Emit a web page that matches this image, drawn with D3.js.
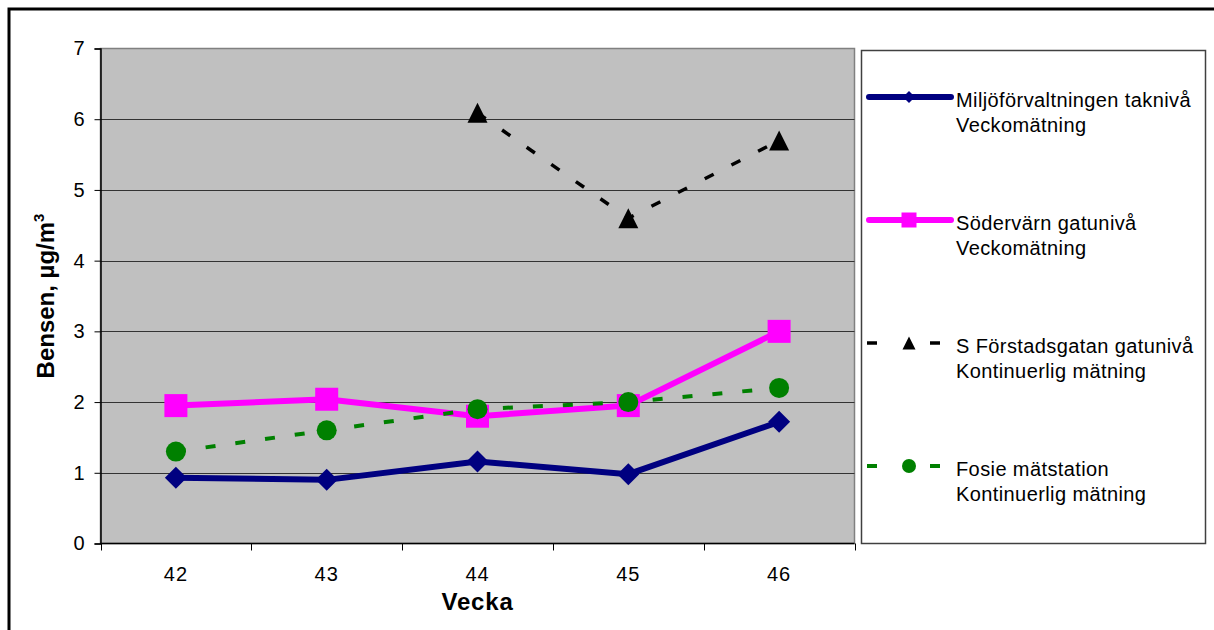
<!DOCTYPE html>
<html>
<head>
<meta charset="utf-8">
<script src="https://cdn.jsdelivr.net/npm/d3@7"></script>
<style>
  html, body { margin: 0; padding: 0; background: #fff; }
  svg { display: block; font-family: "Liberation Sans", Arial, sans-serif; }
</style>
</head>
<body>
<svg id="chart" width="1214" height="630"></svg>
<script>
// Week numbers and benzene concentrations (µg/m³)
const weeks = ["42", "43", "44", "45", "46"];
const miljoValues = [0.93, 0.90, 1.16, 0.98, 1.72];
const sodervarnValues = [1.95, 2.04, 1.80, 1.95, 3.00];
const forstadsValues = [null, null, 6.09, 4.60, 5.70];
const fosieValues = [1.30, 1.60, 1.90, 2.00, 2.20];
const yTicks = [0, 1, 2, 3, 4, 5, 6, 7];

const series = [
  { name: ["Miljöförvaltningen taknivå", "Veckomätning"], values: miljoValues,
    color: "#000080", width: 6, dash: null, marker: "diamond", size: 22, legendSize: 12 },
  { name: ["Södervärn gatunivå", "Veckomätning"], values: sodervarnValues,
    color: "#FF00FF", width: 6, dash: null, marker: "square", size: 23, legendSize: 15 },
  { name: ["S Förstadsgatan gatunivå", "Kontinuerlig mätning"], values: forstadsValues,
    color: "#000000", width: 3.5, dash: "10,20", marker: "triangle", size: 20, legendSize: 13 },
  { name: ["Fosie mätstation", "Kontinuerlig mätning"], values: fosieValues,
    color: "#008000", width: 4, dash: "10,20", marker: "circle", size: 20, legendSize: 14 }
];

const svg = d3.select("#chart");
const plot = { left: 100.5, right: 854.5, top: 48.5, bottom: 543.5 };

const x = d3.scaleBand().domain(weeks).range([plot.left, plot.right]).padding(0);
const y = d3.scaleLinear().domain([0, 7]).range([plot.bottom, plot.top]);
const cx = d => x(d) + x.bandwidth() / 2;

// Outer frame
svg.append("rect").attr("x", 9).attr("y", 9).attr("width", 1220).attr("height", 640)
  .attr("fill", "none").attr("stroke", "#000").attr("stroke-width", 3);

// Plot background
svg.append("rect")
  .attr("x", plot.left).attr("y", plot.top)
  .attr("width", plot.right - plot.left).attr("height", plot.bottom - plot.top)
  .attr("fill", "#C0C0C0").attr("stroke", "#808080").attr("stroke-width", 1.5);

// Horizontal gridlines
svg.append("g").selectAll("line").data(yTicks.filter(t => t > 0 && t < 7)).join("line")
  .attr("x1", plot.left).attr("x2", plot.right)
  .attr("y1", d => Math.round(y(d)) + 0.5).attr("y2", d => Math.round(y(d)) + 0.5)
  .attr("stroke", "#333").attr("stroke-width", 1);

// Y axis
const yAxis = svg.append("g").attr("transform", `translate(${plot.left},0)`)
  .call(d3.axisLeft(y).tickValues(yTicks).tickSize(6).tickPadding(10).tickFormat(d3.format("d")));
yAxis.select(".domain").attr("stroke", "#000").attr("stroke-width", 1.5);
yAxis.selectAll(".tick line").attr("stroke", "#000");
yAxis.selectAll(".tick text").attr("font-size", 20).attr("fill", "#000")
  .attr("font-family", "'Liberation Sans', Arial, sans-serif");

// X axis: ticks at category boundaries, labels centred in bands
const xAxisG = svg.append("g").attr("transform", `translate(0,${plot.bottom})`);
xAxisG.append("line").attr("x1", plot.left).attr("x2", plot.right)
  .attr("stroke", "#000").attr("stroke-width", 1.5);
const bounds = weeks.map(w => x(w)).concat([plot.right]);
xAxisG.selectAll("line.tk").data(bounds).join("line").attr("class", "tk")
  .attr("x1", d => Math.round(d) + 0.5).attr("x2", d => Math.round(d) + 0.5)
  .attr("y1", 0).attr("y2", 7).attr("stroke", "#000");
xAxisG.selectAll("text").data(weeks).join("text")
  .attr("x", d => cx(d)).attr("y", 37).attr("text-anchor", "middle")
  .attr("font-size", 20).attr("letter-spacing", 1).attr("fill", "#000").text(d => d);

// Axis titles
svg.append("text").attr("x", 477.5).attr("y", 610).attr("text-anchor", "middle")
  .attr("font-size", 24).attr("letter-spacing", 0.8).attr("font-weight", "bold").text("Vecka");
const yt = svg.append("text")
  .attr("transform", "translate(54,296) rotate(-90)")
  .attr("text-anchor", "middle").attr("font-size", 24).attr("font-weight", "bold");
yt.append("tspan").text("Bensen, µg/m");
yt.append("tspan").attr("dy", -10).attr("font-size", 15).text("3");

// Marker shapes
const symbolType = { diamond: d3.symbolDiamond, square: d3.symbolSquare, triangle: d3.symbolTriangle, circle: d3.symbolCircle };
function markerPath(kind, size) {
  if (kind === "diamond") {
    const h = size / 2;
    return `M0,${-h}L${h},0L0,${h}L${-h},0Z`;
  }
  if (kind === "square") {
    const h = size / 2;
    return `M${-h},${-h}H${h}V${h}H${-h}Z`;
  }
  if (kind === "triangle") {
    const h = size / 2;
    return `M0,${-h}L${h},${h}L${-h},${h}Z`;
  }
  return d3.symbol(symbolType[kind], Math.PI * (size / 2) ** 2)();
}

// Series lines and markers
const line = d3.line().defined(d => d.v != null).x(d => cx(d.w)).y(d => y(d.v));
series.forEach(s => {
  const pts = weeks.map((w, i) => ({ w, v: s.values[i] }));
  const g = svg.append("g");
  g.append("path").datum(pts).attr("d", line)
    .attr("fill", "none").attr("stroke", s.color).attr("stroke-width", s.width)
    .attr("stroke-linejoin", "round").attr("stroke-dasharray", s.dash);
  g.selectAll("path.m").data(pts.filter(d => d.v != null)).join("path").attr("class", "m")
    .attr("transform", d => `translate(${cx(d.w)},${y(d.v)})`)
    .attr("d", markerPath(s.marker, s.size)).attr("fill", s.color);
});

// Legend
const legend = svg.append("g");
legend.append("rect").attr("x", 861.5).attr("y", 50.5).attr("width", 344).attr("height", 493)
  .attr("fill", "#fff").attr("stroke", "#404040").attr("stroke-width", 1.5);
const itemY = [97, 220, 343, 466];
series.forEach((s, i) => {
  const g = legend.append("g").attr("transform", `translate(0,${itemY[i]})`);
  if (s.dash) {
    [[867, 877], [930, 940]].forEach(([a, b]) => g.append("line")
      .attr("x1", a).attr("x2", b).attr("y1", 0).attr("y2", 0)
      .attr("stroke", s.color).attr("stroke-width", s.width));
  } else {
    g.append("line").attr("x1", 869).attr("x2", 951).attr("y1", 0).attr("y2", 0)
      .attr("stroke", s.color).attr("stroke-width", s.width).attr("stroke-linecap", "round");
  }
  g.append("path").attr("transform", "translate(909,0)")
    .attr("d", markerPath(s.marker, s.legendSize)).attr("fill", s.color);
  const t = g.append("text").attr("x", 956).attr("y", 10).attr("font-size", 20)
    .attr("letter-spacing", 0.4).attr("fill", "#000");
  s.name.forEach((n, k) => t.append("tspan").attr("x", 956).attr("dy", k === 0 ? 0 : 25).text(n));
});
</script>
</body>
</html>
